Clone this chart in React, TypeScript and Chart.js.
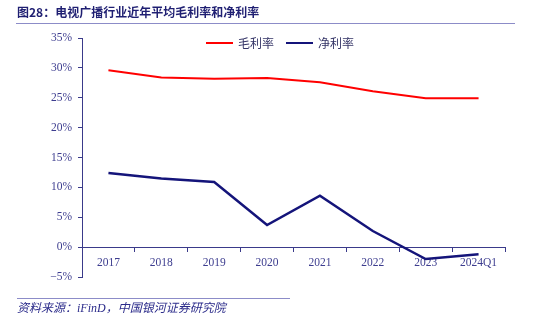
import React, { useEffect, useRef } from "react";
import { Chart, registerables } from "chart.js";

Chart.register(...registerables);

const categories = ["2017", "2018", "2019", "2020", "2021", "2022", "2023", "2024Q1"];
const grossMargin = [29.6, 28.4, 28.2, 28.3, 27.6, 26.1, 24.9, 24.9];
const netMargin = [12.4, 11.5, 10.9, 3.7, 8.6, 2.7, -2.0, -1.2];
const yMin = -5;
const yMax = 35;
const yStep = 5;

const AXIS = "#3a3a8a";
const TICK = "#3d3d8f";

export default function App() {
  const ref = useRef<HTMLCanvasElement | null>(null);
  useEffect(() => {
    if (!ref.current) return;
    const chart = new Chart(ref.current, {
      type: "line",
      data: {
        labels: categories,
        datasets: [
          { label: "毛利率", data: grossMargin, borderColor: "#ff0000", borderWidth: 2, pointRadius: 0, tension: 0, fill: false },
          { label: "净利率", data: netMargin, borderColor: "#14147a", borderWidth: 2.5, pointRadius: 0, tension: 0, fill: false },
        ],
      },
      options: {
        responsive: false,
        animation: false,
        devicePixelRatio: 1,
        layout: { padding: { left: 0, top: 38, right: 33, bottom: 51 } },
        plugins: { legend: { display: false }, tooltip: { enabled: false } },
        scales: {
          x: {
            type: "category",
            position: { y: 0 } as any,
            offset: true,
            grid: { display: true, drawOnChartArea: false, drawTicks: true, tickLength: 4, color: AXIS, offset: true },
            border: { display: true, color: AXIS, width: 1 },
            ticks: { color: TICK, font: { family: "Liberation Serif", size: 11.5 }, padding: 5, maxRotation: 0, autoSkip: false },
          },
          y: {
            min: yMin,
            max: yMax,
            grid: { display: true, drawOnChartArea: false, drawTicks: true, tickLength: 4, color: AXIS },
            border: { display: true, color: AXIS, width: 1 },
            ticks: {
              stepSize: yStep,
              color: TICK,
              padding: 6,
              font: { family: "Liberation Serif", size: 11.5 },
              callback: (v: any) => (Number(v) < 0 ? "\u2212" + Math.abs(Number(v)) : v) + "%",
            },
            afterFit: (s: any) => {
              s.width = 82;
            },
          },
        },
      },
    });
    return () => chart.destroy();
  }, []);

  return (
    <div style={{ position: "absolute", left: 0, top: 0, width: 538, height: 328, background: "#fff", overflow: "hidden" }}>
      <canvas ref={ref} width={538} height={328} style={{ position: "absolute", left: 0, top: 0, width: 538, height: 328 }} />
      <div
        style={{
          position: "absolute",
          left: 17,
          top: 4,
          fontFamily: "'Noto Sans CJK SC', sans-serif",
          fontWeight: 700,
          fontSize: 12,
          lineHeight: "16px",
          color: "#1f1f72",
          whiteSpace: "nowrap",
        }}
      >
        图28：电视广播行业近年平均毛利率和净利率
      </div>
      <div style={{ position: "absolute", left: 16, top: 23, width: 499, height: 1, background: "#8c8cc8" }} />
      <div
        style={{
          position: "absolute",
          left: 206,
          top: 35,
          display: "flex",
          alignItems: "center",
          fontFamily: "'Noto Sans CJK SC', sans-serif",
          fontSize: 12,
          lineHeight: "16px",
          color: "#333366",
          whiteSpace: "nowrap",
        }}
      >
        <span style={{ display: "inline-block", width: 27, height: 2, background: "#ff0000", marginRight: 5 }} />
        <span style={{ marginRight: 12 }}>毛利率</span>
        <span style={{ display: "inline-block", width: 27, height: 2.5, background: "#14147a", marginRight: 5 }} />
        <span>净利率</span>
      </div>
      <div style={{ position: "absolute", left: 17, top: 298, width: 273, height: 1, background: "#8c8cc8" }} />
      <div
        style={{
          position: "absolute",
          left: 17,
          top: 300,
          fontFamily: "'Liberation Serif', 'Noto Sans CJK SC', serif",
          fontStyle: "italic",
          fontSize: 12,
          lineHeight: "16px",
          color: "#2b2b8a",
          whiteSpace: "nowrap",
        }}
      >
        资料来源：iFinD，中国银河证券研究院
      </div>
    </div>
  );
}
